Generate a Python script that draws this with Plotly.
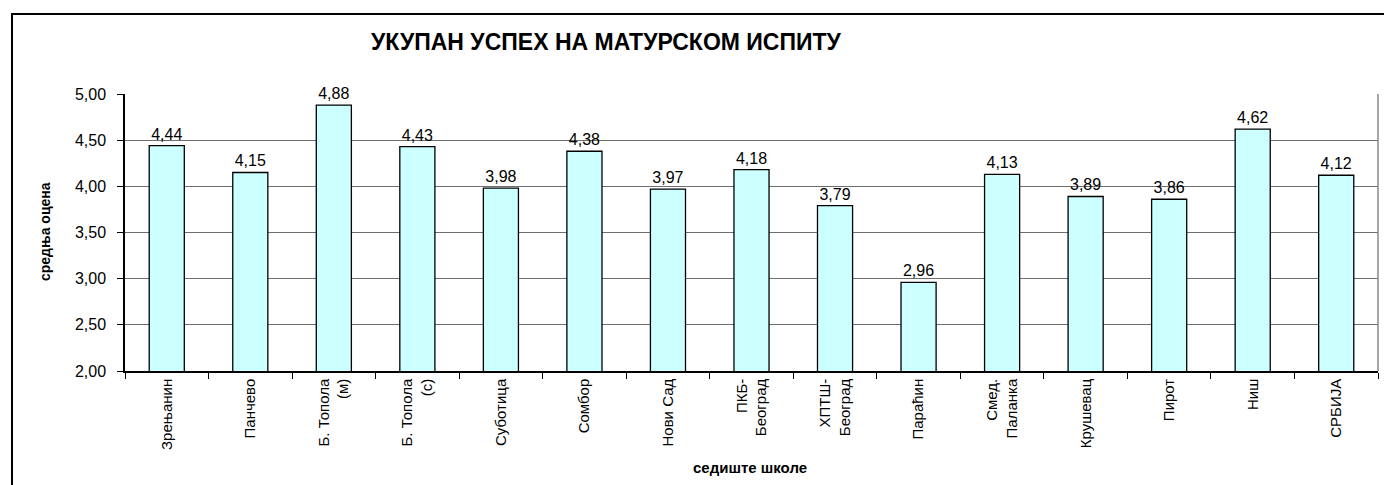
import plotly.graph_objects as go

categories = ["Зрењанин", "Панчево", "Б. Топола<br>(м)", "Б. Топола<br>(с)", "Суботица",
              "Сомбор", "Нови Сад", "ПКБ-<br>Београд", "ХПТШ-<br>Београд", "Параћин",
              "Смед.<br>Паланка", "Крушевац", "Пирот", "Ниш", "СРБИЈА"]
values = [4.44, 4.15, 4.88, 4.43, 3.98, 4.38, 3.97, 4.18, 3.79, 2.96, 4.13, 3.89, 3.86, 4.62, 4.12]
y_ticks = [2.0, 2.5, 3.0, 3.5, 4.0, 4.5, 5.0]

W, H = 1384, 485
L, R, T, B = 125, 6, 94, 114
pw, ph = W - L - R, H - T - B

def px_x(x):
    return (x - L) / pw

def px_y(y):
    return 1 - (y - T) / ph

FONT = "Arial, Liberation Sans, sans-serif"

fig = go.Figure(go.Bar(
    x=list(range(len(categories))), y=values,
    marker=dict(color="#CCFFFF", line=dict(color="black", width=1.3)),
    texttemplate="%{y:.2f}", textposition="outside",
    textfont=dict(family=FONT, size=16, color="black"),
    cliponaxis=False, width=0.42,
))

fig.update_layout(
    width=W, height=H,
    margin=dict(l=L, r=R, t=T, b=B, autoexpand=False),
    paper_bgcolor="white", plot_bgcolor="white",
    separators=", ",
    showlegend=False,
    font=dict(family=FONT, color="black"),
    annotations=[
        dict(text="<b>УКУПАН УСПЕХ НА МАТУРСКОМ ИСПИТУ</b>", xref="paper", yref="paper",
             x=px_x(606), y=px_y(42), xanchor="center", yanchor="middle", showarrow=False,
             font=dict(family=FONT, size=23, color="black")),
        dict(text="<b>средња оцена</b>", xref="paper", yref="paper",
             x=px_x(45), y=px_y(232), xanchor="center", yanchor="middle", showarrow=False,
             textangle=-90, font=dict(family=FONT, size=14, color="black")),
        dict(text="<b>седиште школе</b>", xref="paper", yref="paper",
             x=px_x(750), y=px_y(467), xanchor="center", yanchor="middle", showarrow=False,
             font=dict(family=FONT, size=15, color="black")),
    ],
    shapes=[
        dict(type="rect", xref="paper", yref="paper", x0=px_x(12), x1=px_x(1400),
             y0=px_y(500), y1=px_y(14), line=dict(color="black", width=2), layer="below"),
        dict(type="line", xref="paper", yref="paper", x0=1, x1=1, y0=0, y1=1,
             line=dict(color="#888888", width=1.5)),
    ],
)

fig.update_xaxes(
    tickmode="array", tickvals=list(range(len(categories))), ticktext=categories,
    range=[-0.5, len(categories) - 0.5], automargin=False,
    tickangle=-90, tickfont=dict(family=FONT, size=15, color="black"),
    showline=True, linecolor="black", linewidth=1.5,
    ticks="", ticklen=10, showgrid=False, zeroline=False,
)
fig.update_xaxes(minor=dict(tickmode="array", tickvals=[i + 0.5 for i in range(-1, len(categories))],
                            ticks="outside", ticklen=6, tickcolor="black", tickwidth=1.3, showgrid=False))

fig.update_yaxes(
    range=[2, 5], tickvals=y_ticks, tickformat=".2f", automargin=False,
    tickfont=dict(family=FONT, size=16, color="black"),
    showline=True, linecolor="black", linewidth=1.5,
    ticks="outside", ticklen=6, tickcolor="black", ticklabelstandoff=8,
    showgrid=True, gridcolor="#6e6e6e", gridwidth=1.3, zeroline=False,
)

fig.write_html("out.html", config={"displayModeBar": False},
               post_script="document.body.style.margin='0';document.body.style.overflow='hidden';")
